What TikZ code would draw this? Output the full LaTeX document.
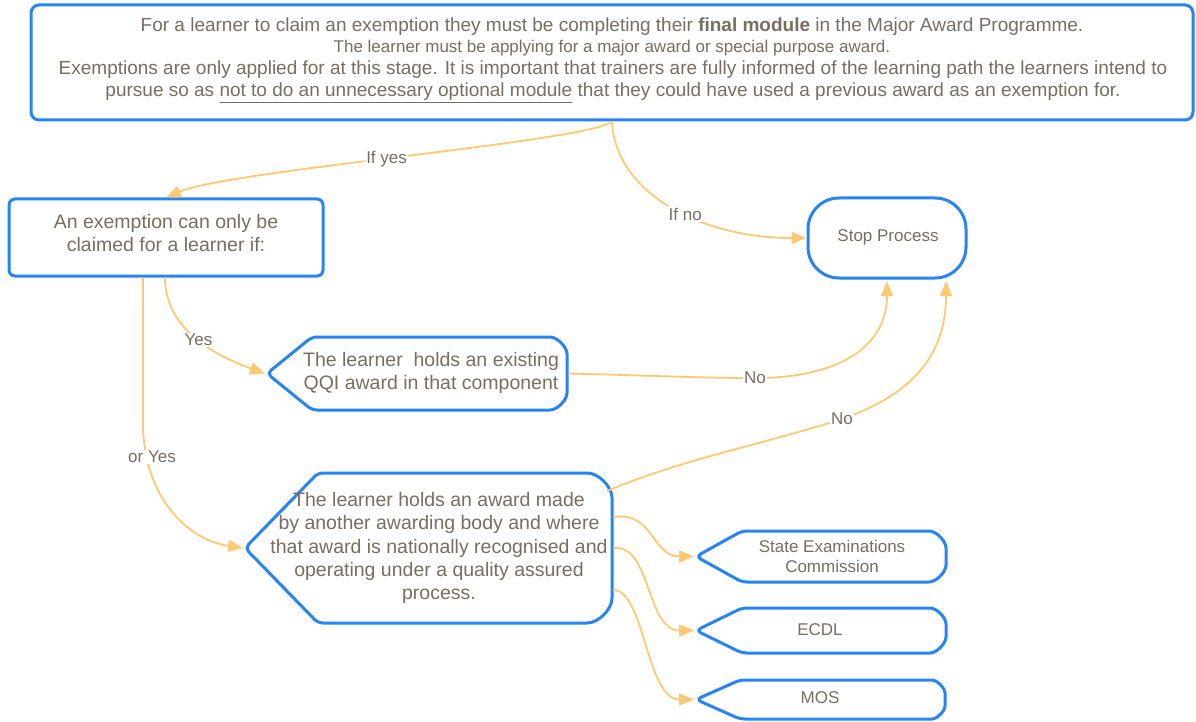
\documentclass[tikz,border=0pt]{standalone}
\usepackage{fontspec}
\setmainfont{Liberation Sans}
\usetikzlibrary{arrows.meta}
\definecolor{edgeblue}{RGB}{38,132,245}
\definecolor{flowline}{RGB}{255,200,115}
\definecolor{inktext}{RGB}{120,110,97}
\tikzset{
  outline/.style={draw=edgeblue, line width=3pt, line join=round},
  plainbox/.style={outline, inner sep=0pt, fill=white},
  introline/.style={text=inktext, inner sep=0pt, anchor=base, font=\fontsize{19}{22}\selectfont},
  boxtext/.style={text=inktext, align=center, inner sep=0pt, font=\fontsize{19.5}{23.2}\selectfont},
  smalltext/.style={text=inktext, align=center, inner sep=0pt, font=\fontsize{17}{20}\selectfont},
  flow/.style={draw=flowline, line width=1.8pt, -{Triangle[length=15pt,width=12pt]}},
  flowlabel/.style={text=inktext, fill=white, inner sep=1.5pt, font=\fontsize{17}{20}\selectfont},
}
% display shape: pointed on the left, rounded on the right
% #1 name, #2 tip x, #3 shoulder x, #4 right x, #5 top y, #6 bottom y, #7 end radius
\newcommand\displaybox[7]{%
  \draw[outline, rounded corners=5pt] (#2,{(#5+#6)/2}) -- (#3,#5) -- ({#4-#7},#5)
    .. controls ({#4-0.45*#7},#5) and (#4,{#5+0.45*#7}) .. (#4,{#5+#7})
    -- (#4,{#6-#7})
    .. controls (#4,{#6-0.45*#7}) and ({#4-0.45*#7},#6) .. ({#4-#7},#6)
    -- (#3,#6) -- cycle;
  \coordinate (#1 tip) at ({#2-2},{(#5+#6)/2});
  \coordinate (#1 east) at ({#4+1.5},{(#5+#6)/2});
}
\begin{document}
\begin{tikzpicture}[x=1pt,y=-1pt]
\useasboundingbox (0,0) rectangle (1196,722);
\fill[white] (0,0) rectangle (1196,722);

% --- introduction box ---
\node[plainbox, rounded corners=8pt, minimum width=1162pt, minimum height=115pt] (intro) at (612,62.5) {};
\node[introline] (introA) at (612,32)
  {For a learner to claim an exemption they must be completing their \textbf{final module} in the Major Award Programme.};
\node[introline, font=\fontsize{17}{20}\selectfont] (introB) at (612,53)
  {The learner must be applying for a major award or special purpose award.};
\node[introline] (introC) at (613,75)
  {Exemptions are only applied for at this stage. It is important that trainers are fully informed of the learning path the learners intend to};
\node[introline] (introD) at (613,96.5)
  {pursue so as \underline{not to do an unnecessary optional module} that they could have used a previous award as an exemption for.};

% --- condition box ---
\node[plainbox, rounded corners=6pt, minimum width=314pt, minimum height=77pt] (cond) at (166,237.5) {};
\node[boxtext] (condtext) at (166,233) {An exemption can only be\\claimed for a learner if:};

% --- stop ---
\node[plainbox, rounded corners=31pt, minimum width=158pt, minimum height=80pt] (stop) at (887,238) {};
\node[smalltext] (stoptext) at (888,237.5) {Stop Process};

% --- display shapes ---
\displaybox{qqi}{267}{312}{567}{337}{410}{22}
\node[boxtext] (qqitext) at (431,373) {The learner\ \ holds an existing\\QQI award in that component};

\displaybox{other}{245}{318}{612}{473}{623}{30}
\node[boxtext] (othertext) at (439,548) {The learner holds an award made\\by another awarding body and where\\that award is nationally recognised and\\operating under a quality assured\\process.};

\displaybox{sec}{696}{742}{946}{531}{582}{22}
\node[smalltext] (sectext) at (832,556) {State Examinations\\Commission};

\displaybox{ecdl}{696}{742}{946}{608}{653}{21}
\node[smalltext] (ecdltext) at (820,630) {ECDL};

\displaybox{mos}{696}{740}{945}{680}{719}{18}
\node[smalltext] (mostext) at (820,698) {MOS};

% --- connector end points ---
\coordinate (cond yes) at (165,277.5);
\coordinate (cond oryes) at (143,277.5);
\coordinate (other ne) at (607,491);
\coordinate (other r1) at (613.5,517);
\coordinate (other r2) at (613.5,548);
\coordinate (other r3) at (613,590);
\coordinate (stop s1) at (887,281);
\coordinate (stop s2) at (946,281);

% --- connectors ---
\draw[flow] (intro.south) .. controls +(-22,20) and +(64,-27.5) .. (cond.north)
  node[flowlabel, pos=0.53] (lblifyes) {If yes};
\draw[flow] (intro.south) .. controls +(3,70) and +(-108,0) .. (stop.west)
  node[flowlabel, pos=0.57] (lblifno) {If no};
\draw[flow] (cond yes) .. controls +(0,52) and +(-50,-18) .. (qqi tip)
  node[flowlabel, pos=0.52] (lblyes) {Yes};
\draw[flow] (cond oryes) -- ++(0,145) .. controls +(0,75) and +(-55,-8) .. (other tip);
\node[flowlabel] (lbloryes) at (152,457) {or Yes};
\draw[flow] (qqi east) .. controls +(80,2) and +(-55,0) .. (755,378)
  node[flowlabel] (lblno1) {No}
  .. controls +(85,0) and +(0,65) .. (stop s1);
\draw[flow] (other ne) .. controls +(73,-31) and +(-82,26) .. (842,419)
  node[flowlabel] (lblno2) {No}
  .. controls +(78,-27) and +(0,67) .. (stop s2);
\draw[flow] (other r1) .. controls +(40,-6) and +(-42,0) .. (sec tip);
\draw[flow] (other r2) .. controls +(38,-4) and +(-48,0) .. (ecdl tip);
\draw[flow] (other r3) .. controls +(32,0) and +(-48,0) .. (mos tip);
\end{tikzpicture}
\end{document}
